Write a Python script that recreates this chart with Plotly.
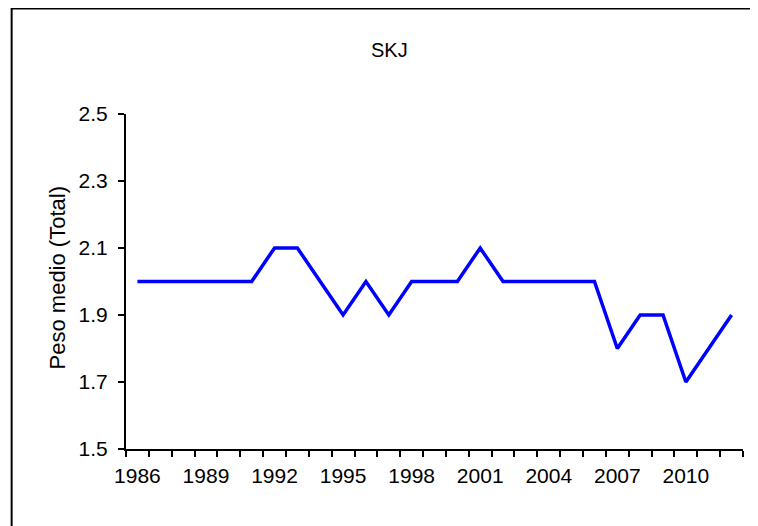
import plotly.graph_objects as go

years = list(range(1986, 2013))
peso_medio = [2.0, 2.0, 2.0, 2.0, 2.0, 2.0, 2.1, 2.1, 2.0, 1.9,
              2.0, 1.9, 2.0, 2.0, 2.0, 2.1, 2.0, 2.0, 2.0, 2.0,
              2.0, 1.8, 1.9, 1.9, 1.7, 1.8, 1.9]
x_labels = [1986, 1989, 1992, 1995, 1998, 2001, 2004, 2007, 2010]
y_ticks = [1.5, 1.7, 1.9, 2.1, 2.3, 2.5]

# the page body has an 8px margin, so figure coords = page coords - 8
OFF = 8
W, H = 758 - OFF, 526 - OFF
L, R, T, B = 125.5 - OFF, 743.3 - OFF, 114 - OFF, 449.3 - OFF

def px(xf):
    return (xf - L) / (R - L)

def py(yf):
    return (B - yf) / (B - T)

family = "Liberation Sans, Arial, sans-serif"
tickfont = dict(family=family, size=21, color="black")

fig = go.Figure()
fig.add_trace(go.Scatter(x=years, y=peso_medio, mode="lines",
                         line=dict(color="#0000FF", width=3.5), showlegend=False,
                         hoverinfo="x+y"))

fig.update_layout(
    width=W, height=H,
    margin=dict(l=L, r=W - R, t=T, b=H - B, pad=0),
    paper_bgcolor="white", plot_bgcolor="white",
    font=tickfont,
    xaxis=dict(range=[1985.5, 2012.5], tickmode="array", tickvals=x_labels,
               ticktext=[str(v) for v in x_labels], ticks="outside", ticklen=6,
               tickcolor="rgba(0,0,0,0)", showgrid=False, zeroline=False,
               showline=True, linecolor="black", linewidth=2,
               ticklabelstandoff=1,
               minor=dict(tickmode="linear", tick0=1985.5, dtick=1, ticks="outside",
                          ticklen=6, tickwidth=2, tickcolor="black", showgrid=False),
               tickfont=tickfont),
    yaxis=dict(range=[1.5, 2.5], tickmode="array", tickvals=y_ticks,
               ticktext=[f"{v:.1f}" for v in y_ticks], ticks="outside", ticklen=6,
               tickwidth=2, tickcolor="black", showgrid=False, zeroline=False,
               showline=True, linecolor="black", linewidth=2,
               ticklabelstandoff=6,
               tickfont=tickfont),
)

# chart title
fig.add_annotation(text="SKJ", xref="paper", yref="paper",
                   x=px(389 - OFF), y=py(50 - OFF), xanchor="center", yanchor="middle",
                   showarrow=False, font=dict(family=family, size=20, color="black"))

# y-axis title
fig.add_annotation(text="Peso medio (Total)", xref="paper", yref="paper",
                   x=px(57 - OFF), y=py(278 - OFF), xanchor="center", yanchor="middle",
                   textangle=-90, showarrow=False,
                   font=dict(family=family, size=22, color="black"))

# outer chart border
fig.add_shape(type="rect", xref="paper", yref="paper",
              x0=px(11 - OFF), x1=px(W + 20),
              y0=py(H + 20), y1=py(0.5),
              line=dict(color="black", width=2), fillcolor="rgba(0,0,0,0)",
              layer="below")

fig.write_html("out.html")
